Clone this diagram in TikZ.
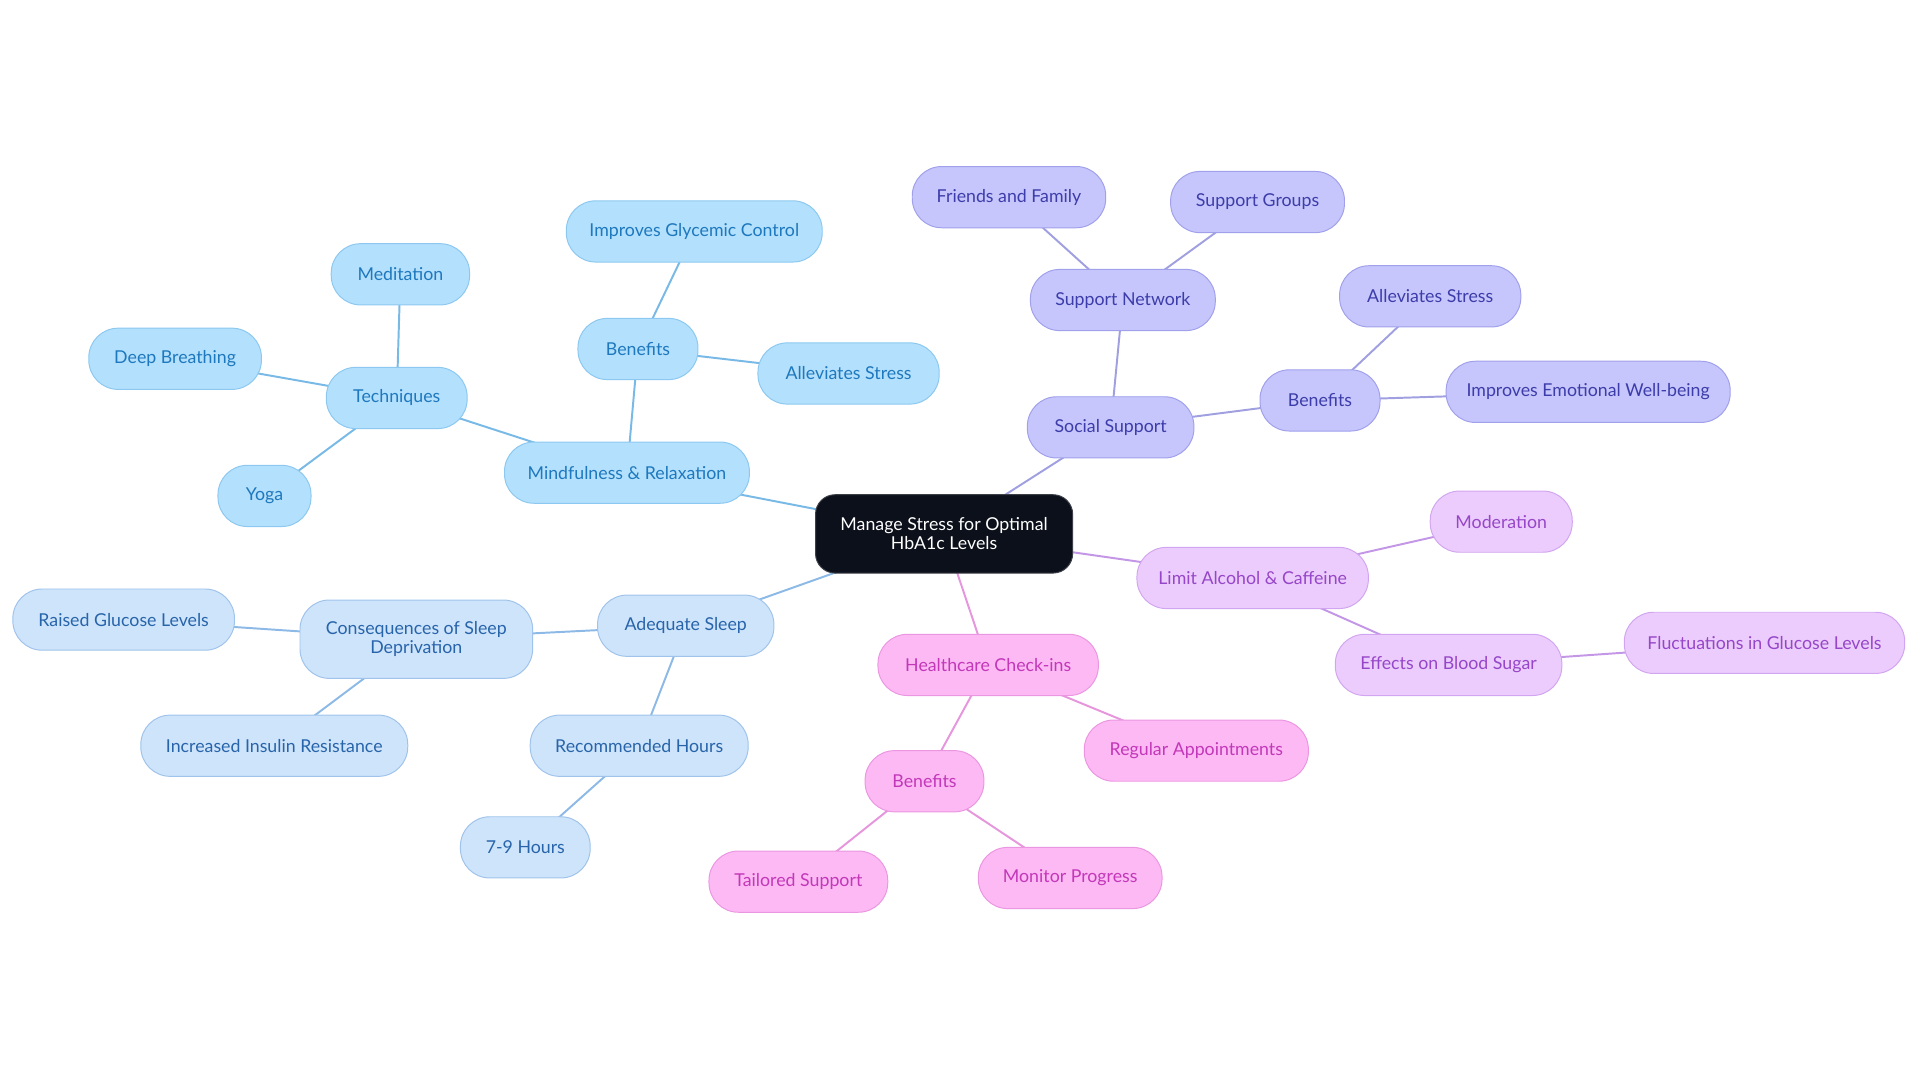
\documentclass[tikz,border=0pt]{standalone}
\usepackage{fontspec}
\setmainfont{Lato}
\usetikzlibrary{backgrounds}
\definecolor{mindfill}{RGB}{179,224,252}
\definecolor{mindborder}{RGB}{140,200,240}
\definecolor{mindtext}{RGB}{30,120,190}
\definecolor{mindedge}{RGB}{120,185,230}
\definecolor{sleepfill}{RGB}{205,228,251}
\definecolor{sleepborder}{RGB}{160,195,235}
\definecolor{sleeptext}{RGB}{40,100,170}
\definecolor{sleepedge}{RGB}{140,185,230}
\definecolor{socfill}{RGB}{198,198,252}
\definecolor{socborder}{RGB}{160,160,235}
\definecolor{soctext}{RGB}{60,60,170}
\definecolor{socedge}{RGB}{160,160,225}
\definecolor{alcfill}{RGB}{236,204,252}
\definecolor{alcborder}{RGB}{210,165,240}
\definecolor{alctext}{RGB}{150,70,200}
\definecolor{alcedge}{RGB}{195,150,230}
\definecolor{hcfill}{RGB}{252,185,244}
\definecolor{hcborder}{RGB}{235,150,225}
\definecolor{hctext}{RGB}{195,55,185}
\definecolor{hcedge}{RGB}{230,150,220}
\definecolor{rootfill}{RGB}{12,16,26}
\tikzset{
  base/.style={draw, line width=0.8pt, rounded corners=24pt, minimum height=50pt,
    inner sep=0pt, align=center, font=\fontsize{14.5}{15.5}\selectfont},
  mind/.style={base, fill=mindfill, draw=mindborder, text=mindtext},
  sleep/.style={base, fill=sleepfill, draw=sleepborder, text=sleeptext},
  soc/.style={base, fill=socfill, draw=socborder, text=soctext},
  alc/.style={base, fill=alcfill, draw=alcborder, text=alctext},
  hc/.style={base, fill=hcfill, draw=hcborder, text=hctext},
  root/.style={base, fill=rootfill, draw=rootfill!80!white, text=white, rounded corners=16pt},
  link/.style={line width=1.6pt},
}
\begin{document}
\begin{tikzpicture}[x=1pt,y=-1pt]
\useasboundingbox (0,0) rectangle (1568,884.4);
% root
\node[root, minimum width=210pt, minimum height=64pt] (root) at (771,436) {Manage Stress for Optimal\\HbA1c Levels};
% mindfulness
\node[mind, minimum width=200pt] (mr) at (512,386) {Mindfulness \& Relaxation};
\node[mind, minimum width=98pt] (mben) at (521,285) {Benefits};
\node[mind, minimum width=148pt] (mall) at (693,305) {Alleviates Stress};
\node[mind, minimum width=209pt] (mgly) at (567,189) {Improves Glycemic Control};
\node[mind, minimum width=115pt] (tech) at (324,325) {Techniques};
\node[mind, minimum width=113pt] (medi) at (327,224) {Meditation};
\node[mind, minimum width=141pt] (deep) at (143,293) {Deep Breathing};
\node[mind, minimum width=76pt] (yoga) at (216,405) {Yoga};
% sleep
\node[sleep, minimum width=144pt] (sleep) at (560,511) {Adequate Sleep};
\node[sleep, minimum width=190pt, minimum height=64pt] (cons) at (340,522) {Consequences of Sleep\\Deprivation};
\node[sleep, minimum width=178pt] (rech) at (522,609) {Recommended Hours};
\node[sleep, minimum width=181pt] (rgl) at (101,506) {Raised Glucose Levels};
\node[sleep, minimum width=218pt] (iir) at (224,609) {Increased Insulin Resistance};
\node[sleep, minimum width=106pt] (hours) at (429,692) {7-9 Hours};
% social
\node[soc, minimum width=136pt] (ss) at (907,349) {Social Support};
\node[soc, minimum width=98pt] (sben) at (1078,327) {Benefits};
\node[soc, minimum width=151pt] (snet) at (917,245) {Support Network};
\node[soc, minimum width=158pt] (ff) at (824,161) {Friends and Family};
\node[soc, minimum width=142pt] (sg) at (1027,165) {Support Groups};
\node[soc, minimum width=148pt] (sall) at (1168,242) {Alleviates Stress};
\node[soc, minimum width=232pt] (iew) at (1297,320) {Improves Emotional Well-being};
% alcohol
\node[alc, minimum width=189pt] (alc) at (1023,472) {Limit Alcohol \& Caffeine};
\node[alc, minimum width=116pt] (mod) at (1226,426) {Moderation};
\node[alc, minimum width=185pt] (ebs) at (1183,543) {Effects on Blood Sugar};
\node[alc, minimum width=229pt] (fgl) at (1441,525) {Fluctuations in Glucose Levels};
% healthcare
\node[hc, minimum width=180pt] (hc) at (807,543) {Healthcare Check-ins};
\node[hc, minimum width=183pt] (ra) at (977,613) {Regular Appointments};
\node[hc, minimum width=97pt] (hben) at (755,638) {Benefits};
\node[hc, minimum width=146pt] (ts) at (652,720) {Tailored Support};
\node[hc, minimum width=150pt] (mp) at (874,717) {Monitor Progress};
\begin{scope}[on background layer]
\draw[link, mindedge] (root.center) -- (mr.center);
\draw[link, mindedge] (mr.center) -- (mben.center);
\draw[link, mindedge] (mben.center) -- (mall.center);
\draw[link, mindedge] (mben.center) -- (mgly.center);
\draw[link, mindedge] (mr.center) -- (tech.center);
\draw[link, mindedge] (tech.center) -- (medi.center);
\draw[link, mindedge] (tech.center) -- (deep.center);
\draw[link, mindedge] (tech.center) -- (yoga.center);
\draw[link, sleepedge] (root.center) -- (sleep.center);
\draw[link, sleepedge] (sleep.center) -- (cons.center);
\draw[link, sleepedge] (sleep.center) -- (rech.center);
\draw[link, sleepedge] (cons.center) -- (rgl.center);
\draw[link, sleepedge] (cons.center) -- (iir.center);
\draw[link, sleepedge] (rech.center) -- (hours.center);
\draw[link, socedge] (root.center) -- (ss.center);
\draw[link, socedge] (ss.center) -- (sben.center);
\draw[link, socedge] (ss.center) -- (snet.center);
\draw[link, socedge] (snet.center) -- (ff.center);
\draw[link, socedge] (snet.center) -- (sg.center);
\draw[link, socedge] (sben.center) -- (sall.center);
\draw[link, socedge] (sben.center) -- (iew.center);
\draw[link, alcedge] (root.center) -- (alc.center);
\draw[link, alcedge] (alc.center) -- (mod.center);
\draw[link, alcedge] (alc.center) -- (ebs.center);
\draw[link, alcedge] (ebs.center) -- (fgl.center);
\draw[link, hcedge] (root.center) -- (hc.center);
\draw[link, hcedge] (hc.center) -- (ra.center);
\draw[link, hcedge] (hc.center) -- (hben.center);
\draw[link, hcedge] (hben.center) -- (ts.center);
\draw[link, hcedge] (hben.center) -- (mp.center);
\end{scope}
\end{tikzpicture}
\end{document}
